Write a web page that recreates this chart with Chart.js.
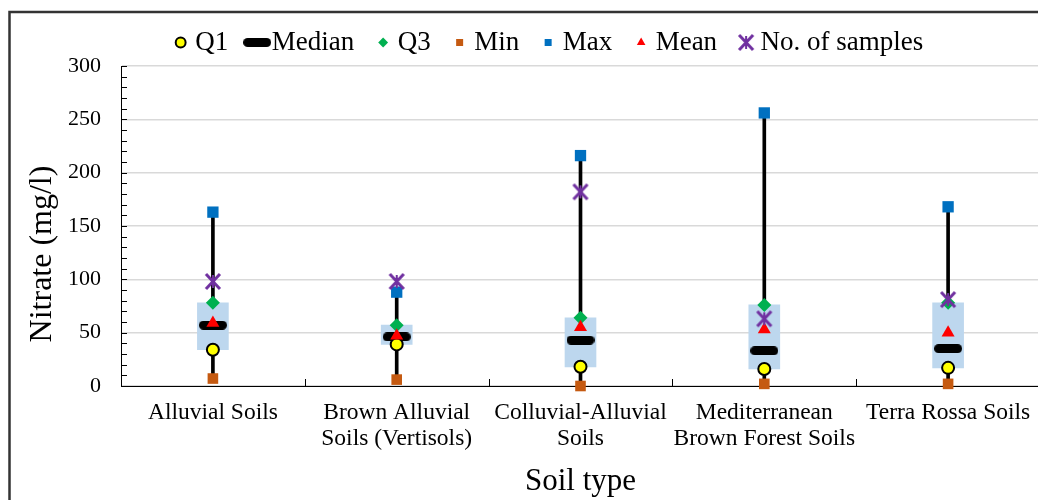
<!DOCTYPE html>
<html>
<head>
<meta charset="utf-8">
<script src="https://cdn.jsdelivr.net/npm/chart.js@4.4.1/dist/chart.umd.min.js"></script>
<style>
  html, body { margin: 0; padding: 0; background: #fff; overflow: hidden; }
  #wrap { position: relative; width: 1053px; height: 500px; }
</style>
</head>
<body>
<div id="wrap"><canvas id="myChart"></canvas></div>
<script>
// data (mg/l)
const soilTypes = [
  ['Alluvial Soils'],
  ['Brown Alluvial', 'Soils (Vertisols)'],
  ['Colluvial-Alluvial', 'Soils'],
  ['Mediterranean', 'Brown Forest Soils'],
  ['Terra Rossa Soils']
];
const q1Values = [34, 39, 18, 16, 17];
const medianValues = [57, 46, 43, 33, 35];
const q3Values = [78, 57, 64, 76, 78];
const minValues = [7, 6, 0, 2, 2];
const maxValues = [163, 88, 216, 256, 168];
const meanValues = [59, 47, 55, 53, 50];
const sampleCounts = [98, 98, 182, 63, 81];

const yMin = 0;
const yMax = 300;
const yStep = 50;
const yMinorStep = 10;

Chart.defaults.font.family = "'Liberation Serif', 'Times New Roman', serif";
Chart.defaults.color = '#000';

// rounded black bar for the median marker
const medianImg = document.createElement('canvas');
medianImg.width = 28;
medianImg.height = 9;
(function () {
  const c = medianImg.getContext('2d');
  c.fillStyle = '#000';
  c.beginPath();
  c.roundRect(0, 0, 28, 9, 4.5);
  c.fill();
})();

// asterisk marker for number of samples
const starImg = document.createElement('canvas');
starImg.width = 18;
starImg.height = 19;
(function () {
  const c = starImg.getContext('2d');
  c.strokeStyle = '#7030A0';
  c.lineWidth = 3;
  c.beginPath();
  c.moveTo(2, 2); c.lineTo(16, 17);
  c.moveTo(16, 2); c.lineTo(2, 17);
  c.stroke();
  c.lineWidth = 2;
  c.beginPath();
  c.moveTo(9, 3); c.lineTo(9, 16);
  c.stroke();
})();

const markerSet = (label, data, style, bg, border, borderW, radius, order) => ({
  type: 'line',
  label: label,
  data: data,
  showLine: false,
  clip: false,
  pointStyle: style,
  pointRadius: radius,
  pointBackgroundColor: bg,
  pointBorderColor: border,
  pointBorderWidth: borderW,
  backgroundColor: bg,
  borderColor: border,
  order: order
});

// inside tick marks and the outer frame
const extras = {
  id: 'extras',
  afterLayout(chart) {
    // legend sits a little right of centre in the original
    chart.legend.left += 25;
    chart.legend.right += 25;
  },
  beforeDraw(chart) {
    const ctx = chart.ctx;
    ctx.save();
    ctx.strokeStyle = '#333';
    ctx.lineWidth = 2.5;
    ctx.beginPath();
    ctx.moveTo(9.5, chart.height);
    ctx.lineTo(9.5, 12);
    ctx.lineTo(chart.width, 12);
    ctx.stroke();
    ctx.restore();
  },
  beforeDatasetsDraw(chart) {
    const {ctx, chartArea, scales: {x, y}} = chart;
    ctx.save();
    ctx.strokeStyle = '#000';
    ctx.lineWidth = 1;
    ctx.beginPath();
    for (let v = yMin; v <= yMax; v += yMinorStep) {
      const py = Math.round(y.getPixelForValue(v)) + 0.5;
      ctx.moveTo(chartArea.left, py);
      ctx.lineTo(chartArea.left + 6, py);
    }
    for (let i = 0; i < soilTypes.length - 1; i++) {
      const px = Math.round((x.getPixelForValue(i) + x.getPixelForValue(i + 1)) / 2) + 0.5;
      ctx.moveTo(px, chartArea.bottom);
      ctx.lineTo(px, chartArea.bottom - 7);
    }
    ctx.stroke();
    ctx.restore();
  }
};

new Chart(document.getElementById('myChart'), {
  type: 'bar',
  data: {
    labels: soilTypes,
    datasets: [
      markerSet('Q1', q1Values, 'circle', '#FFFF00', '#000', 2, 6, 2),
      markerSet('Median', medianValues, medianImg, '#000', '#000', 0, 13, 4),
      markerSet('Q3', q3Values, 'rectRot', '#00B050', '#00B050', 0, 7, 2),
      markerSet('Min', minValues, 'rect', '#C55A11', '#C55A11', 0, 7.5, 3),
      markerSet('Max', maxValues, 'rect', '#0070C0', '#0070C0', 0, 8, 3),
      markerSet('Mean', meanValues, 'triangle', '#FF0000', '#FF0000', 0, 7.5, 1),
      markerSet('No. of samples', sampleCounts, starImg, '#7030A0', '#7030A0', 0, 9, 0),
      {
        label: 'box',
        data: q1Values.map((v, i) => [v, q3Values[i]]),
        backgroundColor: '#BDD7EE',
        borderWidth: 0,
        barThickness: 31,
        grouped: false,
        order: 5
      },
      {
        label: 'range',
        data: minValues.map((v, i) => [v, maxValues[i]]),
        backgroundColor: '#000',
        borderWidth: 0,
        barThickness: 3,
        grouped: false,
        order: 6
      }
    ]
  },
  options: {
    responsive: true,
    maintainAspectRatio: false,
    animation: false,
    layout: { padding: { top: 1, right: 0, left: 0, bottom: 0 } },
    plugins: {
      tooltip: { enabled: false },
      legend: {
        position: 'top',
        labels: {
          filter: item => item.datasetIndex < 7,
          sort: (a, b) => a.datasetIndex - b.datasetIndex,
          usePointStyle: true,
          boxWidth: 2,
          boxHeight: 7,
          padding: 28,
          font: { size: 27 },
          color: '#000'
        }
      }
    },
    scales: {
      x: {
        grid: { display: false, drawTicks: false },
        border: { display: true, color: '#000', width: 1 },
        ticks: { font: { size: 23.5, lineHeight: 1.1 }, padding: 14, maxRotation: 0, autoSkip: false },
        title: { display: true, text: 'Soil type', font: { size: 31 }, padding: { top: 0, bottom: 0 } },
        afterFit: scale => {
          scale.height = 114;
          scale.paddingLeft = 0;
          scale.paddingRight = 0;
        }
      },
      y: {
        min: yMin,
        max: yMax,
        ticks: { stepSize: yStep, font: { size: 22 }, padding: 20 },
        grid: { color: '#D9D9D9', lineWidth: 1.5, drawTicks: false },
        border: { display: true, color: '#000', width: 1 },
        title: { display: true, text: 'Nitrate (mg/l)       ', font: { size: 32 }, padding: { top: 23, bottom: 0 } },
        afterFit: scale => { scale.width = 121; }
      }
    }
  },
  plugins: [extras]
});
</script>
</body>
</html>
